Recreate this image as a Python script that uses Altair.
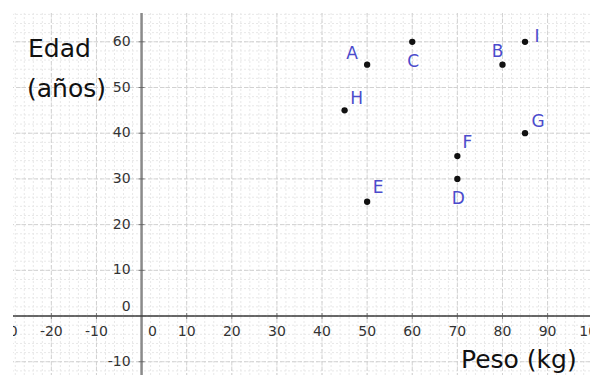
import altair as alt
import pandas as pd

# ---- data ----
names = ["A", "B", "C", "D", "E", "F", "G", "H", "I"]
peso = [50, 80, 60, 70, 50, 70, 85, 45, 85]
edad = [55, 55, 60, 30, 25, 35, 40, 45, 60]

x_tick_values = [-30, -20, -10, 10, 20, 30, 40, 50, 60, 70, 80, 90, 100]
y_tick_values = [-10, 10, 20, 30, 40, 50, 60]
origin_value = [0]

x_minor = list(range(-28, 101, 2))
y_minor = list(range(-12, 67, 2))
x_major = list(range(-20, 101, 10))
y_major = list(range(-10, 67, 10))

# ---- label placement (style: pixel offsets) ----
label_offsets = {
    "A": (-15, -11), "B": (-5, -13), "C": (1, 20), "D": (1, 20),
    "E": (11, -14), "F": (10, -13), "G": (13, -11), "H": (12, -11),
    "I": (12, -5),
}

W, H = 577, 362
xs = alt.Scale(domain=[-28.5, 99.4], nice=False, zero=False)
ys = alt.Scale(domain=[-12.9, 66.3], nice=False, zero=False)

pts = pd.DataFrame({"name": names, "peso": peso, "edad": edad})
xt = pd.DataFrame({"v": x_tick_values, "lab": [str(v) for v in x_tick_values], "z": 0})
yt = pd.DataFrame({"v": y_tick_values, "lab": [str(v) for v in y_tick_values], "z": 0})
orig = pd.DataFrame({"v": origin_value, "lab": ["0"], "z": 0})

grid_minor_x = alt.Chart(pd.DataFrame({"v": x_minor})).mark_rule(
    color="#e8e8e8", strokeWidth=1, strokeDash=[2, 2]).encode(x=alt.X("v:Q", scale=xs, axis=None))
grid_minor_y = alt.Chart(pd.DataFrame({"v": y_minor})).mark_rule(
    color="#e8e8e8", strokeWidth=1, strokeDash=[2, 2]).encode(y=alt.Y("v:Q", scale=ys, axis=None))
grid_major_x = alt.Chart(pd.DataFrame({"v": x_major})).mark_rule(
    color="#d2d2d2", strokeWidth=1, strokeDash=[4, 2]).encode(x=alt.X("v:Q", scale=xs, axis=None))
grid_major_y = alt.Chart(pd.DataFrame({"v": y_major})).mark_rule(
    color="#d2d2d2", strokeWidth=1, strokeDash=[4, 2]).encode(y=alt.Y("v:Q", scale=ys, axis=None))

y_axis = alt.Chart(orig).mark_rule(color="#8a8a8a", strokeWidth=2.5).encode(
    x=alt.X("v:Q", scale=xs, axis=None))
x_axis = alt.Chart(orig).mark_rule(color="#3c3c3c", strokeWidth=1.5).encode(
    y=alt.Y("v:Q", scale=ys, axis=None))

x_ticks = alt.Chart(xt).mark_tick(orient="vertical", size=6, thickness=1, color="#555").encode(
    x=alt.X("v:Q", scale=xs, axis=None), y=alt.Y("z:Q", scale=ys, axis=None))
y_ticks = alt.Chart(yt).mark_tick(orient="horizontal", size=6, thickness=1, color="#555").encode(
    y=alt.Y("v:Q", scale=ys, axis=None), x=alt.X("z:Q", scale=xs, axis=None))

tick_font = dict(font="DejaVu Sans", fontSize=14, color="#333333", clip=True)
x_labels = alt.Chart(xt).mark_text(baseline="middle", align="center", dy=16, **tick_font).encode(
    x=alt.X("v:Q", scale=xs, axis=None), y=alt.Y("z:Q", scale=ys, axis=None), text="lab:N")
y_labels = alt.Chart(yt).mark_text(baseline="middle", align="right", dx=-11, **tick_font).encode(
    y=alt.Y("v:Q", scale=ys, axis=None), x=alt.X("z:Q", scale=xs, axis=None), text="lab:N")
x_zero = alt.Chart(orig).mark_text(baseline="middle", align="center", dx=11, dy=16, **tick_font).encode(
    x=alt.X("v:Q", scale=xs, axis=None), y=alt.Y("z:Q", scale=ys, axis=None), text="lab:N")
y_zero = alt.Chart(orig).mark_text(baseline="middle", align="right", dx=-11, dy=-9, **tick_font).encode(
    x=alt.X("v:Q", scale=xs, axis=None), y=alt.Y("z:Q", scale=ys, axis=None), text="lab:N")

points = alt.Chart(pts).mark_circle(size=40, color="#111111", opacity=1).encode(
    x=alt.X("peso:Q", scale=xs, axis=None), y=alt.Y("edad:Q", scale=ys, axis=None),
    tooltip=["name", "peso", "edad"])

label_layers = []
for n in names:
    dx, dy = label_offsets[n]
    label_layers.append(
        alt.Chart(pts).transform_filter(alt.datum.name == n).mark_text(
            font="DejaVu Sans", fontSize=17, color="#4b4bcc", dx=dx, dy=dy,
            align="center", baseline="middle").encode(
            x=alt.X("peso:Q", scale=xs, axis=None), y=alt.Y("edad:Q", scale=ys, axis=None),
            text="name:N"))

title_font = dict(font="DejaVu Sans", color="#111111", align="left", baseline="alphabetic")
t_edad = alt.Chart(orig).mark_text(fontSize=25, text="Edad", **title_font).encode(
    x=alt.value(15), y=alt.value(44))
t_anos = alt.Chart(orig).mark_text(fontSize=25, text="(años)", **title_font).encode(
    x=alt.value(14), y=alt.value(84))
t_peso = alt.Chart(orig).mark_text(fontSize=25, text="Peso (kg)", **title_font).encode(
    x=alt.value(448), y=alt.value(355))

chart = alt.layer(
    grid_minor_x, grid_minor_y, grid_major_x, grid_major_y,
    y_axis, x_axis, x_ticks, y_ticks,
    x_labels, y_labels, x_zero, y_zero,
    points, *label_layers, t_edad, t_anos, t_peso,
).properties(
    width=W, height=H,
    autosize=alt.AutoSizeParams(type="none"),
    padding={"left": 5, "top": 5, "right": 0, "bottom": 0},
    background="white",
).configure_view(stroke=None)

chart.save("out.html", embed_options={"renderer": "svg", "actions": False})
